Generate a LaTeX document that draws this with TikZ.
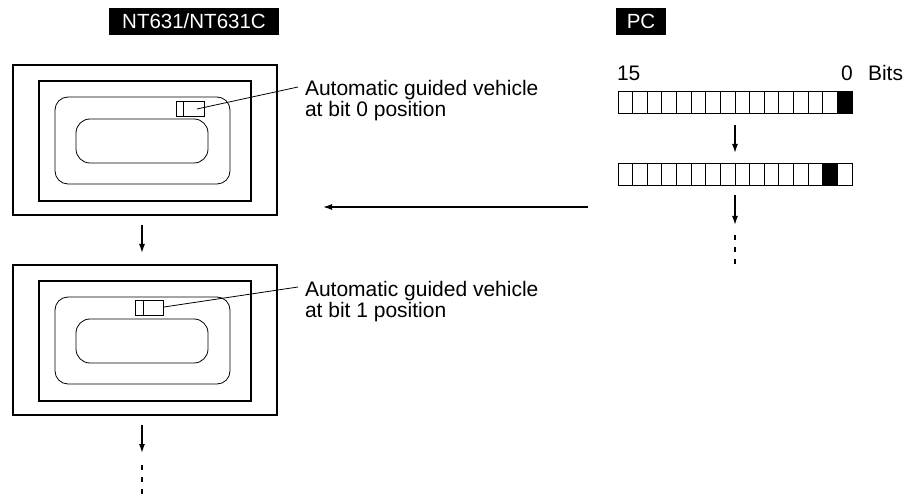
\documentclass[tikz,border=0pt]{standalone}
\usepackage{fontspec}
\setmainfont{Liberation Sans}
\usetikzlibrary{arrows.meta}
\begin{document}
\begin{tikzpicture}[x=1pt,y=-1pt,
  every node/.style={inner sep=0pt,outer sep=0pt},
  txt/.style={font=\fontsize{21}{21.5}\selectfont,align=left},
  tag/.style={fill=black,text=white,font=\fontsize{20.5}{22}\selectfont,minimum height=27pt},
  frameo/.style={draw,line width=1.6pt,minimum width=264pt,minimum height=150pt},
  framei/.style={draw,line width=1.6pt,minimum width=212pt,minimum height=120pt},
  tracko/.style={draw,line width=0.8pt,rounded corners=13pt,minimum width=175pt,minimum height=87pt},
  tracki/.style={draw,line width=0.8pt,rounded corners=14pt,minimum width=132pt,minimum height=44pt},
  agv/.style={draw,line width=1pt,minimum width=28pt,minimum height=15pt},
  cell/.style={draw,line width=0.8pt,minimum width=14.625pt,minimum height=22pt},
  leader/.style={line width=0.8pt},
  arr/.style={line width=1.4pt,-{Latex[length=9pt,width=6pt]}},
  dots/.style={line width=1.2pt,dash pattern=on 5pt off 7pt}]
\useasboundingbox (0,0) rectangle (911,497);

% title tags
\node[tag,minimum width=170pt] (tagnt) at (194,21.5) {NT631/NT631C};
\node[tag,minimum width=50pt] (tagpc) at (641,21.5) {PC};

% screen 1
\node[frameo] (scr1) at (145,140) {};
\node[framei] (in1) at (145,141) {};
\node[tracko] (to1) at (142.5,140.5) {};
\node[tracki] (ti1) at (142,141) {};
\node[agv] (agv1) at (190,109) {};
\draw[line width=1pt] (183,101.5) -- (183,116.5);
\node[txt,anchor=base west] (lab1) at (305,117) {Automatic guided vehicle\\at bit 0 position};
\coordinate (l1) at (298,87);
\draw[leader] (197,109) -- (l1);

% screen 2
\node[frameo] (scr2) at (145,340) {};
\node[framei] (in2) at (145,341) {};
\node[tracko] (to2) at (142.5,340.5) {};
\node[tracki] (ti2) at (142,341) {};
\node[agv] (agv2) at (149,308.5) {};
\draw[line width=1pt] (143,301) -- (143,316);
\node[txt,anchor=base west] (lab2) at (305,318) {Automatic guided vehicle\\at bit 1 position};
\coordinate (l2) at (298,287);
\draw[leader] (164,307) -- (l2);

% left arrows
\coordinate (a1s) at (142,225);
\coordinate (a1e) at (142,253);
\draw[arr] (a1s) -- (a1e);
\coordinate (a2s) at (142,425);
\coordinate (a2e) at (142,453);
\coordinate (a2d) at (142,497);
\draw[arr] (a2s) -- (a2e);
\draw[dots] (142,465) -- (a2d);

% bits
\node[txt,anchor=base west] (b15) at (617,81) {15};
\node[txt,anchor=base west] (b0) at (841,81) {0};
\node[txt,anchor=base west] (bits) at (868,81) {Bits};
\foreach \i in {0,...,15} {
  \pgfmathsetmacro{\cx}{618+14.625*\i+7.3125}
  \ifnum\i=15
    \node[cell,fill=black] (r1c\i) at (\cx,102.5) {};
  \else
    \node[cell] (r1c\i) at (\cx,102.5) {};
  \fi
  \ifnum\i=14
    \node[cell,fill=black] (r2c\i) at (\cx,174.5) {};
  \else
    \node[cell] (r2c\i) at (\cx,174.5) {};
  \fi
}

% right arrows
\coordinate (b1s) at (735,125);
\coordinate (b1e) at (735,153);
\draw[arr] (b1s) -- (b1e);
\coordinate (b2s) at (735,195);
\coordinate (b2e) at (735,225);
\coordinate (b2d) at (735,267);
\draw[arr] (b2s) -- (b2e);
\draw[dots] (735,235) -- (b2d);

% horizontal arrow
\coordinate (hs) at (588,207);
\coordinate (he) at (323,207);
\draw[arr,line width=1.2pt] (hs) -- (he);
\end{tikzpicture}
\end{document}
